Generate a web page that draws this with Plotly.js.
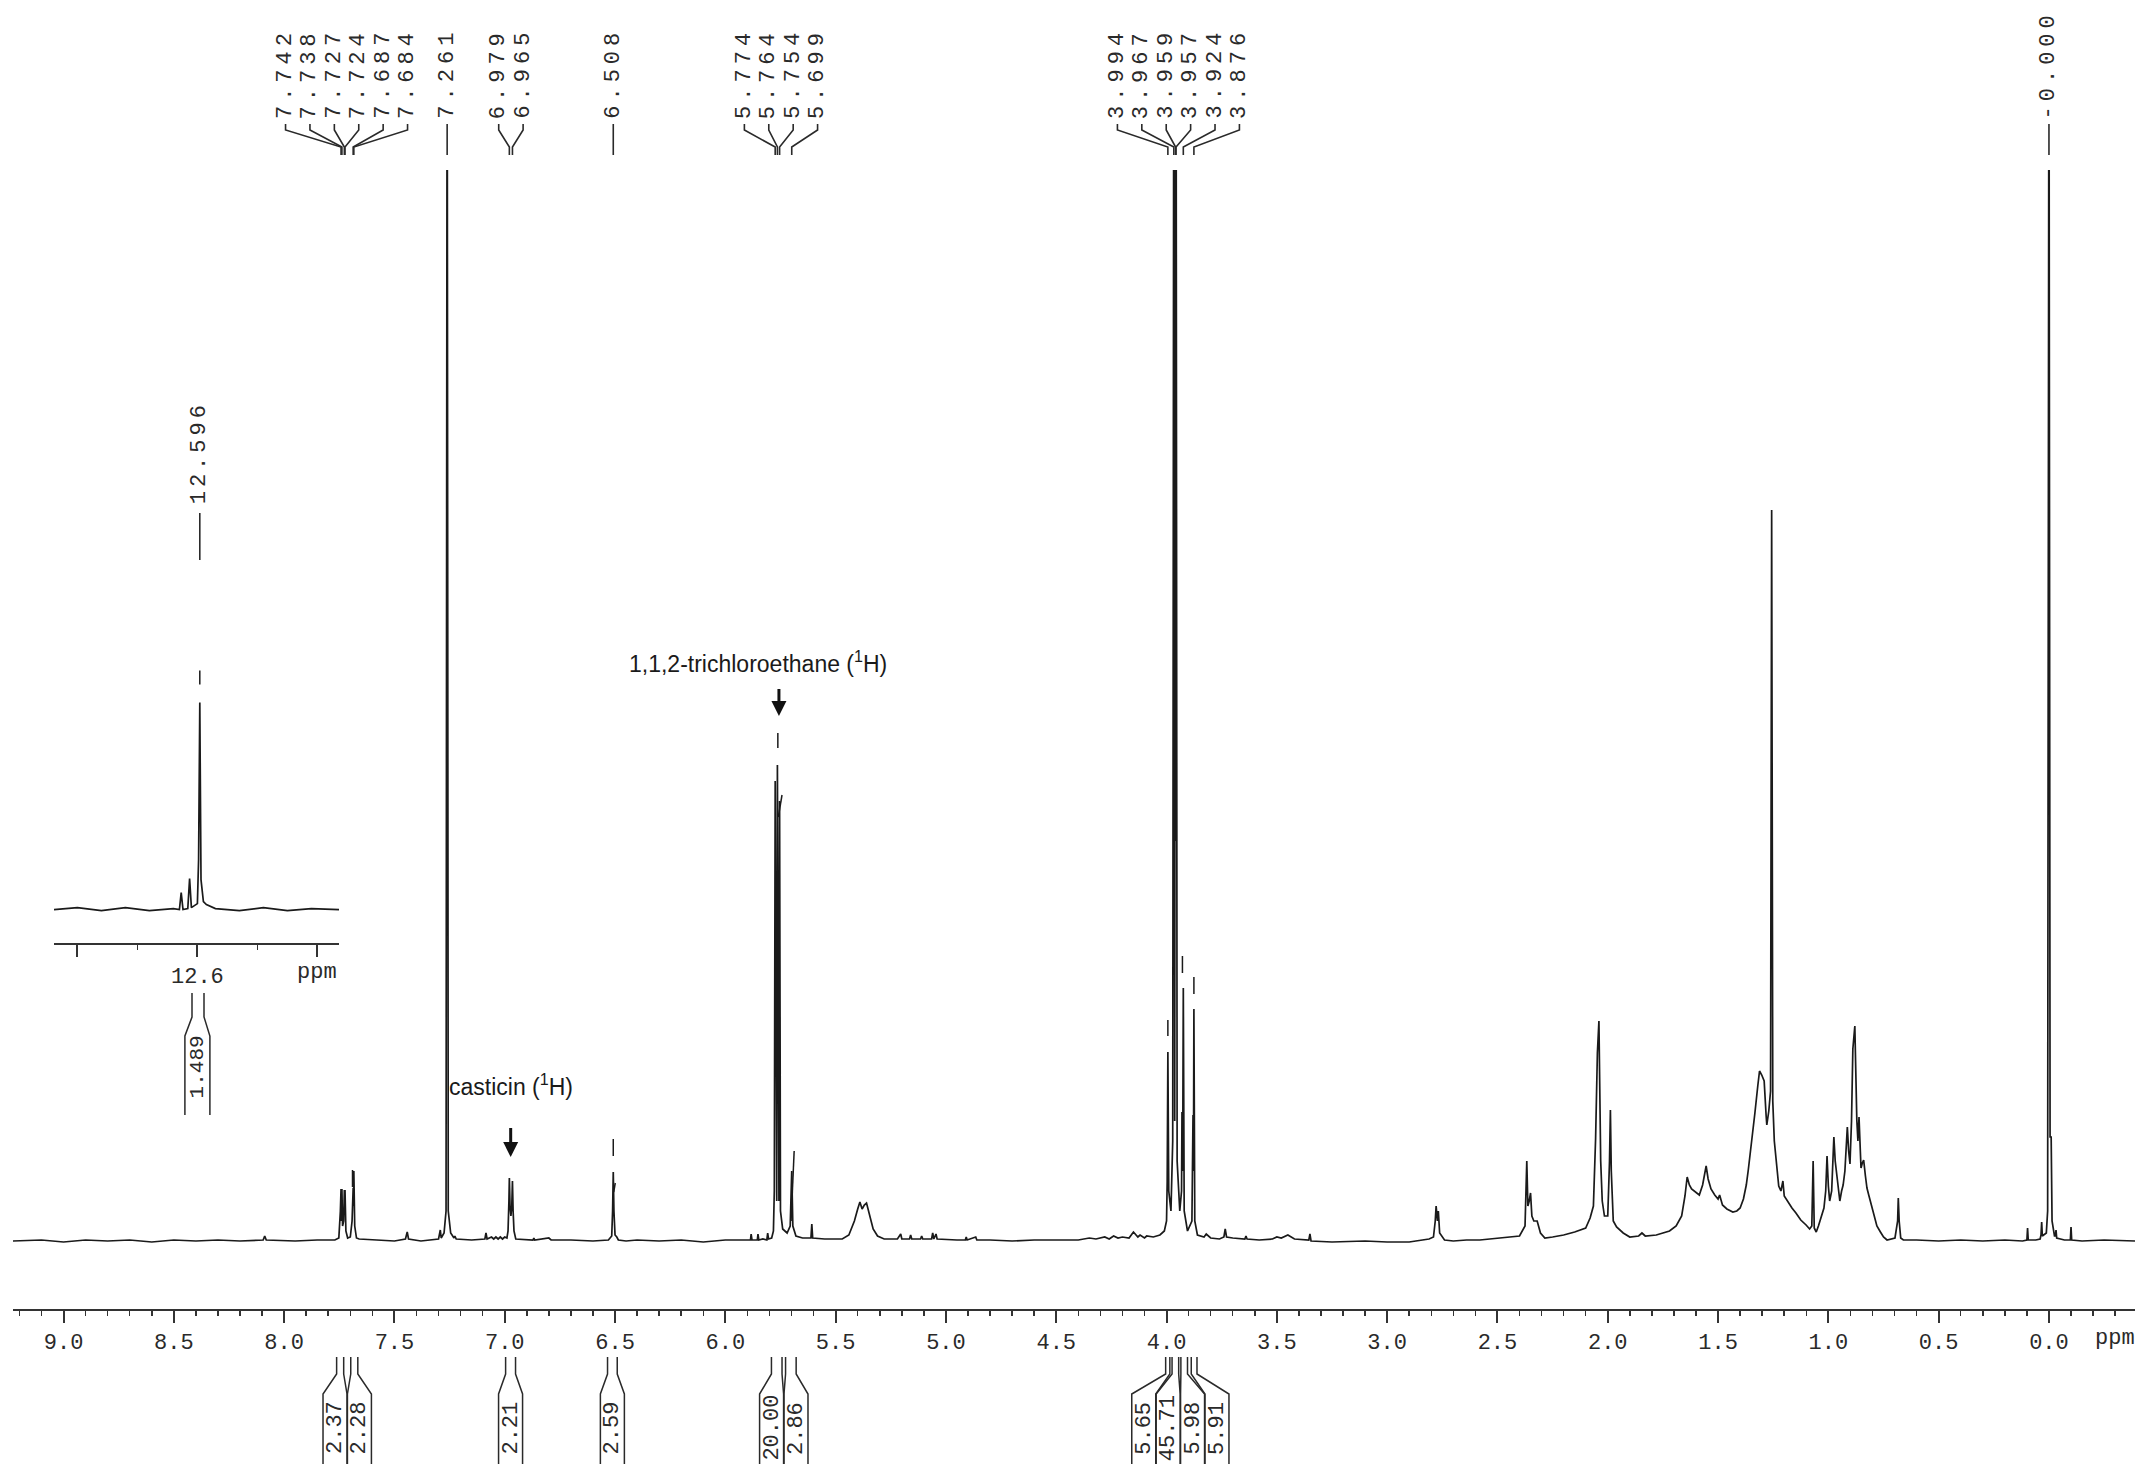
<!DOCTYPE html>
<html>
<head>
<meta charset="utf-8">
<script src="https://cdn.plot.ly/plotly-3.0.1.min.js"></script>
<style>
  html, body { margin: 0; padding: 0; background: #fff; }
  #nmr { width: 2150px; height: 1476px; }
</style>
</head>
<body>
<div id="nmr"></div>
<script>
// 1H spectrum: [ppm, intensity] (arbitrary units, baseline = 0)
const downfieldPts = [
  [9.23,0],[9.10,0.1],[9.00,-0.1],[8.90,0.1],[8.80,0],[8.70,0.1],[8.60,-0.1],[8.50,0.1],[8.40,0],
  [8.30,0.1],[8.20,0],[8.095,0.1],[8.088,0.5],[8.081,0.1],[7.95,0],[7.85,0.1],[7.77,0.1],
  [7.752,0.3],[7.745,3.0],[7.742,5.2],[7.740,2.0],[7.738,5.2],[7.735,1.5],[7.730,2.0],[7.727,5.1],
  [7.7255,3.0],[7.724,5.1],[7.720,1.0],[7.712,0.3],[7.700,0.4],[7.692,2.0],[7.687,5.3],[7.6855,3.5],
  [7.684,7.0],[7.680,1.5],[7.672,0.3],[7.66,0.2],[7.58,0.1],[7.50,0],[7.45,0.2],[7.442,0.9],[7.436,0.2],
  [7.38,0],[7.30,0.2],[7.292,1.1],[7.288,0.3],[7.275,0.8],[7.266,3.0],[7.261,130],[7.256,3.0],
  [7.245,0.8],[7.230,0.3],[7.226,0.5],[7.220,0.2],[7.15,0.1],[7.09,0.2],[7.085,0.8],[7.080,0.2],
  [7.06,0.4],[7.05,0.2],[7.04,0.4],[7.03,0.2],[7.02,0.4],[7.01,0.2],[7.00,0.4],[6.99,0.3],
  [6.985,1.0],[6.981,4.0],[6.979,6.3],[6.976,3.5],[6.972,2.5],[6.968,3.5],[6.965,6.0],[6.962,3.0],
  [6.958,1.0],[6.950,0.2],[6.90,0.1],[6.872,0.1],[6.868,0.3],[6.864,0.1],[6.80,0.3],[6.79,0.1],
  [6.70,0.1],[6.60,0],[6.53,0.1],[6.515,0.5],[6.511,3.0],[6.508,6.9],[6.505,3.0],[6.500,0.6],
  [6.492,0.4],[6.485,0.1],[6.45,0]
];
const olefinicPts = [
  [6.40,0.1],[6.30,0],[6.20,0.1],[6.10,-0.1],[6.00,0.1],[5.95,0.1],[5.886,0.1],[5.883,0.7],[5.879,0.1],
  [5.855,0.1],[5.852,0.7],[5.848,0.1],[5.830,0.2],[5.812,0.1],[5.808,0.8],[5.804,0.2],[5.790,0.3],
  [5.782,1.0],[5.778,5.0],[5.774,46],[5.770,4.0],[5.767,4.0],[5.764,47.6],[5.760,4.0],[5.757,4.0],
  [5.754,44],[5.750,3.0],[5.740,1.2],[5.720,0.8],[5.706,1.5],[5.699,7.0],[5.694,1.5],[5.680,0.5],
  [5.650,0.3],[5.612,0.3],[5.608,1.7],[5.604,0.3],[5.55,0.2],[5.47,0.2],[5.44,0.6],[5.415,2.0],
  [5.40,3.2],[5.39,3.9],[5.38,3.2],[5.37,3.6],[5.36,3.8],[5.35,3.0],[5.34,2.2],[5.33,1.2],[5.31,0.5],
  [5.28,0.2],[5.22,0.2],[5.205,0.7],[5.200,0.2],[5.165,0.2],[5.160,0.6],[5.155,0.2],[5.115,0.2],
  [5.110,0.5],[5.105,0.2],[5.065,0.2],[5.060,0.8],[5.055,0.2],[5.045,0.7],[5.040,0.2],[4.95,0.1],
  [4.912,0.1],[4.908,0.4],[4.904,0.1],[4.865,0.4],[4.860,0.1],[4.80,0.1],[4.70,0],[4.60,0.1],
  [4.50,0.1],[4.40,0.1],[4.35,0.3],[4.32,0.2],[4.28,0.4],[4.26,0.2],[4.24,0.5],[4.22,0.3],[4.20,0.4],
  [4.17,0.3],[4.15,0.9],[4.13,0.4],[4.12,0.6],[4.10,0.3],[4.09,0.5],[4.06,0.4],[4.03,0.6]
];
const methoxyPts = [
  [4.010,1.0],[4.000,2.0],[3.997,6.0],[3.994,18.9],[3.990,5.0],[3.980,3.0],[3.972,10.0],[3.967,130],
  [3.963,12],[3.959,130],[3.958,40],[3.957,130],[3.952,8.0],[3.940,3.0],[3.932,5.0],[3.930,12.9],
  [3.927,7.0],[3.924,25.3],[3.920,3.0],[3.905,1.0],[3.885,2.0],[3.880,12.6],[3.878,7.0],[3.876,23.2],
  [3.872,2.0],[3.860,0.6],[3.83,0.4],[3.82,0.7],[3.80,0.3],[3.76,0.2],[3.740,0.4],[3.734,1.2],
  [3.728,0.4],[3.70,0.3],[3.645,0.2],[3.640,0.5],[3.635,0.2],[3.58,0.1],[3.52,0.2],[3.50,0.4],
  [3.48,0.3],[3.45,0.6],[3.42,0.2],[3.38,0.1],[3.355,0.1],[3.350,0.7],[3.345,0],[3.25,-0.1],[3.10,0],
  [3.00,-0.1],[2.90,-0.1],[2.81,0.2],[2.79,0.4],[2.782,2.0],[2.778,3.5],[2.772,2.0],[2.768,3.0],
  [2.762,0.8],[2.74,0.1],[2.70,0],[2.64,0.1]
];
const aliphaticPts = [
  [2.58,0.1],[2.48,0.3],[2.40,0.5],[2.375,1.5],[2.367,8.0],[2.362,3.5],[2.356,4.0],[2.350,4.8],
  [2.344,2.5],[2.335,2.0],[2.320,2.0],[2.305,0.8],[2.285,0.3],[2.25,0.4],[2.20,0.6],[2.15,0.9],
  [2.10,1.3],[2.08,2.3],[2.065,3.5],[2.055,10.3],[2.047,18.8],[2.040,22.0],[2.036,15.5],[2.032,8.0],
  [2.025,4.0],[2.015,2.5],[2.000,2.5],[1.992,8.0],[1.988,13.1],[1.984,7.0],[1.975,2.0],[1.96,1.4],
  [1.93,0.8],[1.90,0.4],[1.86,0.5],[1.845,0.8],[1.83,0.5],[1.78,0.6],[1.72,1.0],[1.69,1.5],
  [1.665,2.5],[1.65,4.5],[1.640,6.4],[1.630,5.6],[1.62,5.2],[1.60,4.8],[1.585,4.6],[1.570,5.6],
  [1.560,7.0],[1.554,7.5],[1.545,6.2],[1.532,5.2],[1.515,4.6],[1.50,4.2],[1.493,4.6],[1.48,3.6],
  [1.46,3.2],[1.433,2.9],[1.415,3.0],[1.40,3.3],[1.385,4.2],[1.372,5.6],[1.363,7.1],[1.352,9.0],
  [1.345,10.5],[1.333,12.8],[1.320,15.5],[1.312,17.0],[1.302,16.6],[1.291,16.0],[1.282,12.5],
  [1.279,11.6],[1.270,13.0],[1.262,15],[1.257,73.1],[1.252,14],[1.245,10.0],[1.235,8.0],[1.225,5.5],
  [1.215,5.0],[1.206,6.0],[1.200,4.5],[1.183,3.9],[1.165,3.3],[1.147,2.8],[1.125,2.1],[1.101,1.6],
  [1.085,1.2],[1.075,1.5],[1.069,8.0],[1.064,1.3],[1.055,0.9],[1.045,1.5],[1.030,2.5],[1.020,3.3],
  [1.012,5.0],[1.006,8.5],[1.000,5.5],[0.994,4.0],[0.985,5.0],[0.975,10.4],[0.969,8.0],[0.963,6.7],
  [0.955,5.0],[0.948,4.0],[0.940,5.0],[0.933,5.6],[0.925,7.0],[0.918,9.5],[0.914,11.4],[0.908,9.0],
  [0.902,7.7],[0.895,12.0],[0.889,19.2],[0.880,21.5],[0.876,16.0],[0.871,12.1],[0.866,10.0],
  [0.861,12.4],[0.856,9.5],[0.852,7.3],[0.846,7.8],[0.840,8.1],[0.832,6.5],[0.825,5.3],[0.817,4.6],
  [0.810,4.0],[0.800,3.0],[0.795,2.6],[0.780,1.5],[0.764,0.9],[0.750,0.4],[0.734,0.1],[0.710,0.2],
  [0.698,0.3],[0.686,2.0],[0.683,4.3],[0.679,2.0],[0.672,0.3],[0.66,0.1],[0.60,0.1],[0.50,0],
  [0.40,0.1],[0.30,0],[0.20,0.1],[0.12,0],[0.100,0.1],[0.097,1.3],[0.094,0.1],[0.06,0.1],[0.040,0.2],
  [0.036,0.6],[0.033,1.9],[0.030,0.5],[0.012,0.8],[0.006,3.0],[0.000,130],[-0.005,10.4],
  [-0.010,10.4],[-0.014,2.0],[-0.025,0.5],[-0.029,0.5],[-0.032,1.1],[-0.035,0.3],[-0.07,0.1],
  [-0.097,0.1],[-0.100,1.4],[-0.103,0.1],[-0.15,0],[-0.25,0.1],[-0.39,0]
];
// steep parts of the integral curves, drawn over the peaks
const integralDashes = [
  [[7.690,7.1],[7.690,5.4]],
  [[6.508,10.2],[6.508,8.5]],
  [[6.506,4.9],[6.499,5.8]],
  [[5.762,50.8],[5.762,49.3]],
  [[5.760,42.4],[5.743,44.6]],
  [[5.702,2.0],[5.688,9.0]],
  [[3.994,22.1],[3.994,20.5]],
  [[3.928,28.5],[3.928,26.8]],
  [[3.876,26.4],[3.876,24.7]]
];

// inset around the 12.6 ppm OH signal
const insetPts = [
  [12.839,0],[12.80,0.2],[12.76,-0.1],[12.72,0.2],[12.68,-0.1],[12.64,0.1],[12.630,0],[12.627,1.7],
  [12.624,0],[12.616,0.1],[12.613,3.1],[12.610,0.2],[12.600,0.6],[12.598,5],[12.596,20.7],
  [12.594,3],[12.590,0.8],[12.585,0.5],[12.57,0.1],[12.53,-0.1],[12.49,0.2],[12.45,-0.1],
  [12.41,0.1],[12.364,0]
];
const insetDash = [[12.596,23.9],[12.596,22.5]];

// peak picking labels
const peakGroups = [
  ['7.742','7.738','7.727','7.724','7.687','7.684'],
  ['7.261'],
  ['6.979','6.965'],
  ['6.508'],
  ['5.774','5.764','5.754','5.699'],
  ['3.994','3.967','3.959','3.957','3.924','3.876'],
  ['-0.000']
];

// integrals
const intFrom = [7.762, 7.698, 6.996, 6.534, 5.791, 5.727, 4.004, 3.975, 3.935, 3.888];
const intTo   = [7.730, 7.666, 6.951, 6.490, 5.743, 5.679, 3.985, 3.945, 3.905, 3.862];
const intVal  = ['2.37','2.28','2.21','2.59','20.00','2.86','5.65','45.71','5.98','5.91'];
const intGroup = [0, 0, 1, 2, 3, 3, 4, 4, 4, 4];

// layout in pixels
const W = 2150, H = 1476;
const L = 13, R = 15, TOP = 170, BOT = 1309;
const xRange = [9.229, -0.390];
const pxPerPpm = (W - L - R) / (xRange[0] - xRange[1]);
const yRange = [-6.8, 107.1];
const insetRange = [12.839, 12.364];
const insetPxPerPpm = 600;

function py(Y) { return (BOT - Y) / (BOT - TOP); }
function px(X) { return (X - L) / (W - L - R); }
function spaced(s, ls) { return '<span style="letter-spacing:' + ls + 'px">' + s + '</span>'; }

const INK = '#1a1a1a';
const monoFont = {family: 'Liberation Mono, Courier New, monospace', size: 22, color: '#2a2a2a'};
const sansFont = {family: 'Liberation Sans, Arial, sans-serif', size: 23, color: '#1a1a1a'};

function segs(list) {
  const x = [], y = [];
  list.forEach(s => { s.forEach(p => { x.push(p[0]); y.push(p[1]); }); x.push(null); y.push(null); });
  return {x, y};
}

const spectrum = [].concat(downfieldPts, olefinicPts, methoxyPts, aliphaticPts);
const dashes = segs(integralDashes);

const traces = [
  {x: spectrum.map(p => p[0]), y: spectrum.map(p => p[1]), type: 'scatter', mode: 'lines',
   line: {color: INK, width: 1.7}, hoverinfo: 'skip', xaxis: 'x', yaxis: 'y'},
  {x: dashes.x, y: dashes.y, type: 'scatter', mode: 'lines', connectgaps: false,
   line: {color: INK, width: 1.5}, hoverinfo: 'skip', xaxis: 'x', yaxis: 'y'},
  {x: insetPts.map(p => p[0]), y: insetPts.map(p => p[1]), type: 'scatter', mode: 'lines',
   line: {color: INK, width: 1.7}, hoverinfo: 'skip', xaxis: 'x2', yaxis: 'y2'},
  {x: insetDash.map(p => p[0]), y: insetDash.map(p => p[1]), type: 'scatter', mode: 'lines',
   line: {color: INK, width: 1.5}, hoverinfo: 'skip', xaxis: 'x2', yaxis: 'y2'}
];

const shapes = [];
const annotations = [];

// peak labels with their connector lines
const labelStep = 24.4 / pxPerPpm;
peakGroups.forEach(g => {
  const vals = g.map(parseFloat);
  const mid = vals.reduce((a, b) => a + b, 0) / vals.length;
  g.forEach((s, i) => {
    const lx = mid + ((g.length - 1) / 2 - i) * labelStep;
    annotations.push({x: lx, y: py(121), xref: 'x', yref: 'paper', text: spaced(s, 5), textangle: -90,
      showarrow: false, xanchor: 'center', yanchor: 'bottom', font: monoFont});
    shapes.push({type: 'path', xref: 'x', yref: 'paper',
      path: `M ${lx},${py(124)} L ${lx},${py(130)} L ${vals[i]},${py(147)} L ${vals[i]},${py(155)}`,
      line: {color: '#2a2a2a', width: 1.6}});
  });
});

// integral brackets under the axis
function bracket(xref, a, b, c, hw, ys) {
  shapes.push({type: 'path', xref: xref, yref: 'paper', line: {color: '#2a2a2a', width: 1.5},
    path: `M ${a},${py(ys[0])} L ${a},${py(ys[1])} L ${c + hw},${py(ys[2])} L ${c + hw},${py(ys[3])} ` +
          `M ${b},${py(ys[0])} L ${b},${py(ys[1])} L ${c - hw},${py(ys[2])} L ${c - hw},${py(ys[3])}`});
}
const intBoxHalf = 12 / pxPerPpm;
const groups = [...new Set(intGroup)];
groups.forEach(gi => {
  const idx = intGroup.map((g, i) => g === gi ? i : -1).filter(i => i >= 0);
  const centers = idx.map(i => (intFrom[i] + intTo[i]) / 2);
  const mid = centers.reduce((a, b) => a + b, 0) / centers.length;
  idx.forEach((i, k) => {
    const c = mid + ((idx.length - 1) / 2 - k) * labelStep;
    bracket('x', intFrom[i], intTo[i], c, intBoxHalf, [1357, 1374, 1394, 1464]);
    annotations.push({x: c, y: py(1428), xref: 'x', yref: 'paper', text: intVal[i], textangle: -90,
      showarrow: false, xanchor: 'center', yanchor: 'middle', font: monoFont});
  });
});

// inset label, integral and unit
annotations.push({x: 12.596, y: py(506), xref: 'x2', yref: 'paper', text: spaced('12.596', 4), textangle: -90,
  showarrow: false, xanchor: 'center', yanchor: 'bottom', font: monoFont});
shapes.push({type: 'line', xref: 'x2', yref: 'paper', x0: 12.596, x1: 12.596, y0: py(513), y1: py(560),
  line: {color: '#2a2a2a', width: 1.6}});
bracket('x2', 12.609, 12.589, 12.600, 12.5 / insetPxPerPpm, [993, 1017, 1036, 1115]);
annotations.push({x: 12.600, y: py(1067), xref: 'x2', yref: 'paper', text: '1.489', textangle: -90,
  showarrow: false, xanchor: 'center', yanchor: 'middle', font: Object.assign({}, monoFont, {size: 21})});
annotations.push({x: 12.401, y: py(972), xref: 'x2', yref: 'paper', text: 'ppm',
  showarrow: false, xanchor: 'center', yanchor: 'middle', font: monoFont});
annotations.push({x: -0.30, y: py(1338), xref: 'x', yref: 'paper', text: 'ppm',
  showarrow: false, xanchor: 'center', yanchor: 'middle', font: monoFont});

// compound call-outs
annotations.push({x: 5.852, y: py(662), xref: 'x', yref: 'paper',
  text: '1,1,2-trichloroethane (<sup>1</sup>H)', showarrow: false, font: sansFont});
annotations.push({x: 5.757, y: py(716), xref: 'x', yref: 'paper', text: ' ', font: {size: 2},
  showarrow: true, ax: 0, ay: -30, standoff: 0, startstandoff: 0,
  arrowhead: 2, arrowsize: 1.0, arrowwidth: 3, arrowcolor: '#111'});
annotations.push({x: 6.972, y: py(1102), xref: 'x', yref: 'paper',
  text: 'casticin (<sup>1</sup>H)', showarrow: false, font: sansFont});
annotations.push({x: 6.973, y: py(1157), xref: 'x', yref: 'paper', text: ' ', font: {size: 2},
  showarrow: true, ax: 0, ay: -32, standoff: 0, startstandoff: 0,
  arrowhead: 2, arrowsize: 1.0, arrowwidth: 3, arrowcolor: '#111'});

const layout = {
  width: W, height: H,
  margin: {l: L, r: R, t: TOP, b: H - BOT, pad: 0},
  paper_bgcolor: '#fff', plot_bgcolor: 'rgba(0,0,0,0)',
  showlegend: false,
  xaxis: {
    range: xRange, domain: [0, 1], anchor: 'y', automargin: false,
    showgrid: false, zeroline: false, showline: true, linecolor: '#333', linewidth: 2,
    ticks: 'outside', ticklen: 12, tickwidth: 2, tickcolor: '#333',
    tick0: 0, dtick: 0.5, tickformat: '.1f', tickfont: monoFont,
    minor: {dtick: 0.1, tick0: 0, ticks: 'outside', ticklen: 5, tickwidth: 1.5, tickcolor: '#333'}
  },
  yaxis: {range: yRange, domain: [0, 1], anchor: 'x', visible: false, showgrid: false, zeroline: false},
  xaxis2: {
    range: insetRange, domain: [px(54), px(339)], anchor: 'y2', automargin: false,
    showgrid: false, zeroline: false, showline: true, linecolor: '#333', linewidth: 2,
    ticks: 'outside', ticklen: 12, tickwidth: 2, tickcolor: '#333',
    tickmode: 'array', tickvals: [12.8, 12.6, 12.4], ticktext: ['', '12.6', ''], tickfont: monoFont,
    minor: {tickmode: 'array', tickvals: [12.7, 12.5], ticks: 'outside', ticklen: 5, tickwidth: 1.5, tickcolor: '#333'}
  },
  yaxis2: {range: [-3.34, 30.96], domain: [py(943), py(600)], anchor: 'x2', visible: false,
           showgrid: false, zeroline: false},
  shapes: shapes,
  annotations: annotations
};

Plotly.newPlot('nmr', traces, layout, {staticPlot: true, displayModeBar: false});
</script>
</body>
</html>
